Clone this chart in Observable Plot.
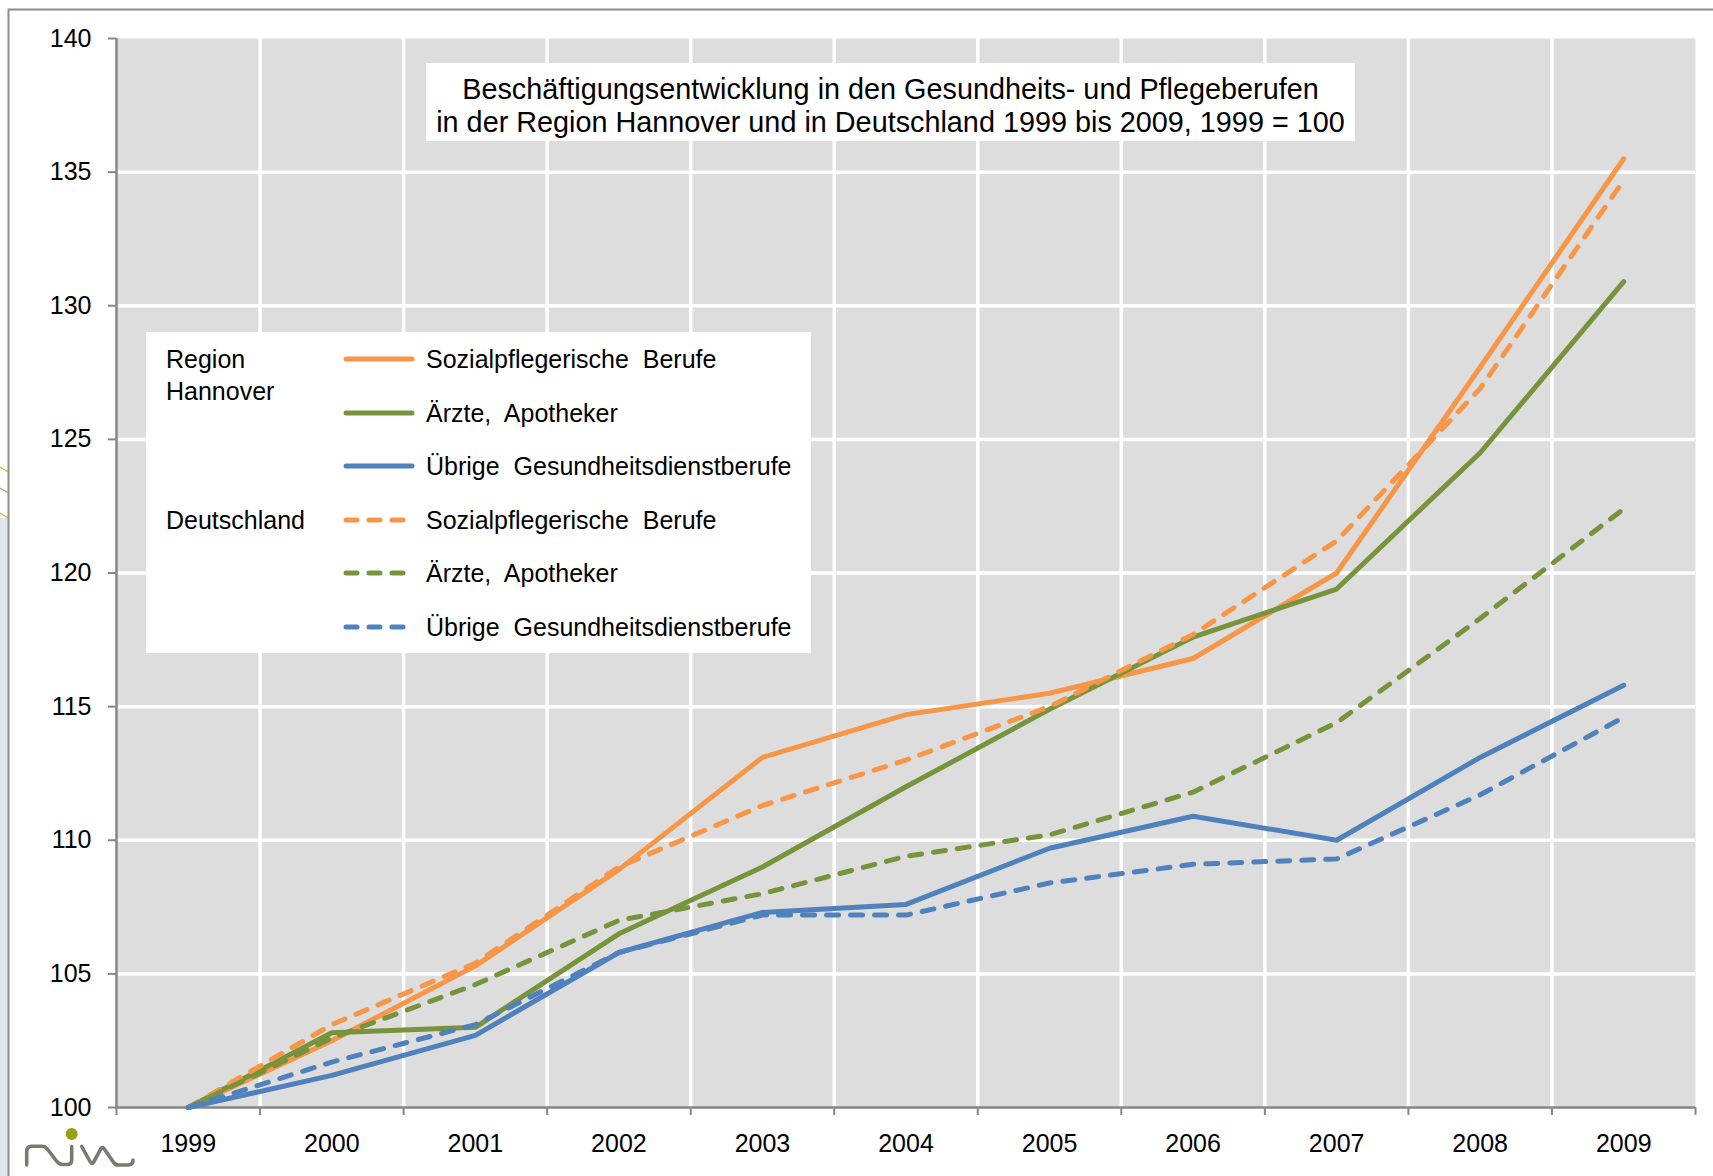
<!DOCTYPE html>
<html>
<head>
<meta charset="utf-8">
<script src="https://cdn.jsdelivr.net/npm/d3@7"></script>
<script src="https://cdn.jsdelivr.net/npm/@observablehq/plot@0.6"></script>
<style>
  html, body { margin: 0; padding: 0; background: #fff; }
  #wrap { position: relative; width: 1713px; height: 1176px; overflow: hidden; background: #fff;
          font-family: "Liberation Sans", Arial, sans-serif; color: #000; }
  #chart { position: absolute; left: 0; top: 0; }
  #chart svg text { font-family: "Liberation Sans", Arial, sans-serif; font-size: 25px; fill: #000; }
  #chart svg [aria-label^="y-axis"] line, #chart svg [aria-label^="y-axis"] path { stroke: #868686; stroke-width: 2; }
  .box { position: absolute; background: #fff; }
  .title { left: 426px; top: 63px; width: 929px; height: 78px; font-size: 28.8px; text-align: center; line-height: 33px; padding-top: 10px; box-sizing: border-box; white-space: nowrap; }
  .legend { left: 146px; top: 332px; width: 665px; height: 321px; font-size: 25px; }
  .lg { position: absolute; white-space: nowrap; transform: translateY(-50%); line-height: 30px; }
  .sw { position: absolute; left: 197px; width: 72px; height: 10px; transform: translateY(-50%); }
</style>
</head>
<body>
<div id="wrap">
  <svg id="deco" width="1713" height="1176" style="position:absolute;left:0;top:0">
    <rect x="0" y="518" width="8" height="658" fill="#dfe6ee"></rect>
    <line x1="0" y1="467" x2="8" y2="472" stroke="#c8c23a" stroke-width="1.2"></line>
    <line x1="0" y1="488" x2="8" y2="493" stroke="#9a9a8a" stroke-width="1.2"></line>
    <line x1="0" y1="513" x2="8" y2="518" stroke="#c8c23a" stroke-width="1.2"></line>
    <path d="M8.5,1176 L8.5,9.5 L1713,9.5" fill="none" stroke="#8c8c8c" stroke-width="2"></path>
    <g transform="translate(0,1110)">
      <circle cx="71.7" cy="24" r="6" fill="#9aa014"></circle>
      <path d="M26.7,55 L26.7,41.7 Q26.7,36.2 31.7,36.2 L41.7,36.2 Q45,36.2 47.3,39 L56.5,51 Q59,54.5 63,54.5 L67,54.5 Q71.7,54.5 71.7,50 L71.7,36.5
               M81.7,36.5 L90.3,52 Q92,55 93.7,52 L100.7,39 Q102.3,36.3 104.3,39 L113.3,52 Q115,55 118.3,55 L128,55 Q133,55 133,50"
            fill="none" stroke="#7a7a6e" stroke-width="3.6" stroke-linecap="round" stroke-linejoin="round"></path>
    </g>
  </svg>
  <div id="chart"></div>
  <div class="box title">Beschäftigungsentwicklung in den Gesundheits- und Pflegeberufen<br>in der Region Hannover und in Deutschland 1999 bis 2009, 1999 = 100</div>
  <div class="box legend" id="legend"></div>
</div>
<script>
// ---- data ----
const years = [1999, 2000, 2001, 2002, 2003, 2004, 2005, 2006, 2007, 2008, 2009];
const yTicks = [100, 105, 110, 115, 120, 125, 130, 135, 140];

const hannoverSozial  = [100, 102.5, 105.3, 108.9, 113.1, 114.7, 115.5, 116.8, 120.0, 127.7, 135.5];
const hannoverAerzte  = [100, 102.8, 103.0, 106.5, 109.0, 112.0, 114.9, 117.6, 119.4, 124.5, 130.9];
const hannoverUebrige = [100, 101.2, 102.7, 105.8, 107.3, 107.6, 109.7, 110.9, 110.0, 113.1, 115.8];
const deutschSozial   = [100, 103.1, 105.4, 109.0, 111.3, 113.0, 115.0, 117.7, 121.2, 126.9, 134.7];
const deutschAerzte   = [100, 102.6, 104.6, 107.0, 108.0, 109.4, 110.2, 111.8, 114.4, 118.3, 122.4];
const deutschUebrige  = [100, 101.7, 103.1, 105.8, 107.2, 107.2, 108.4, 109.1, 109.3, 111.7, 114.6];

const seriesNames = ["Sozialpflegerische  Berufe", "Ärzte,  Apotheker", "Übrige  Gesundheitsdienstberufe"];
const groupNames = ["Region\nHannover", "Deutschland"];
const colors = ["#F79646", "#77933C", "#4F81BD"];

const series = [
  {group: 0, idx: 0, values: hannoverSozial},
  {group: 0, idx: 1, values: hannoverAerzte},
  {group: 0, idx: 2, values: hannoverUebrige},
  {group: 1, idx: 0, values: deutschSozial},
  {group: 1, idx: 1, values: deutschAerzte},
  {group: 1, idx: 2, values: deutschUebrige}
];

const DASH = "12,12";
const bounds = years.map(y => y - 0.5).concat([years[years.length - 1] + 0.5]);

const lineMarks = series.map(s => Plot.line(
  years.map((y, i) => ({year: y, value: s.values[i]})),
  {x: "year", y: "value", stroke: colors[s.idx], strokeWidth: 5,
   strokeLinecap: "round", strokeLinejoin: "round",
   strokeDasharray: s.group === 1 ? DASH : null}
));

const chart = Plot.plot({
  width: 1713, height: 1176,
  marginLeft: 116, marginRight: 18, marginTop: 38, marginBottom: 69,
  x: {domain: [bounds[0], bounds[bounds.length - 1]], ticks: years, tickSize: 0, tickPadding: 27, tickFormat: d => String(d), label: null},
  y: {domain: [yTicks[0], yTicks[yTicks.length - 1]], ticks: yTicks, tickSize: 8, tickPadding: 17, tickFormat: d => String(d), label: null},
  style: {background: "transparent", fontFamily: "Liberation Sans, Arial, sans-serif", fontSize: "25px", color: "#000", overflow: "visible"},
  marks: [
    Plot.frame({fill: "#dddddd", stroke: null}),
    Plot.ruleX(bounds.slice(1, -1), {stroke: "#ffffff", strokeWidth: 3.5}),
    Plot.ruleY(yTicks.slice(1, -1), {stroke: "#ffffff", strokeWidth: 3.5}),
    Plot.ruleX([bounds[0]], {stroke: "#868686", strokeWidth: 2.5}),
    Plot.ruleY([yTicks[0]], {stroke: "#868686", strokeWidth: 2.5}),
    Plot.ruleX(bounds, {y1: yTicks[0], y2: yTicks[0], insetBottom: -8, stroke: "#868686", strokeWidth: 2}),
    ...lineMarks
  ]
});
document.getElementById("chart").appendChild(chart);

// ---- legend ----
const legend = document.getElementById("legend");
const rowY = i => 27 + i * 53.6;
const gl0 = document.createElement("div");
gl0.className = "lg"; gl0.style.left = "20px"; gl0.style.top = (rowY(0) + 16) + "px";
gl0.style.lineHeight = "32px"; gl0.innerHTML = groupNames[0].replace("\n", "<br>");
legend.appendChild(gl0);
const gl1 = document.createElement("div");
gl1.className = "lg"; gl1.style.left = "20px"; gl1.style.top = rowY(3) + "px";
gl1.textContent = groupNames[1];
legend.appendChild(gl1);
series.forEach((s, k) => {
  const y = rowY(k);
  const sw = document.createElementNS("http://www.w3.org/2000/svg", "svg");
  sw.setAttribute("class", "sw");
  sw.setAttribute("width", "72"); sw.setAttribute("height", "10");
  sw.style.top = y + "px";
  const ln = document.createElementNS("http://www.w3.org/2000/svg", "line");
  ln.setAttribute("x1", "3"); ln.setAttribute("x2", s.group === 1 ? "62" : "69");
  ln.setAttribute("y1", "5"); ln.setAttribute("y2", "5");
  ln.setAttribute("stroke", colors[s.idx]); ln.setAttribute("stroke-width", "5");
  ln.setAttribute("stroke-linecap", "round");
  if (s.group === 1) ln.setAttribute("stroke-dasharray", "11,12");
  sw.appendChild(ln);
  legend.appendChild(sw);
  const t = document.createElement("div");
  t.className = "lg"; t.style.left = "280px"; t.style.top = y + "px";
  t.style.whiteSpace = "pre";
  t.textContent = seriesNames[s.idx];
  legend.appendChild(t);
});
</script>
</body>
</html>
